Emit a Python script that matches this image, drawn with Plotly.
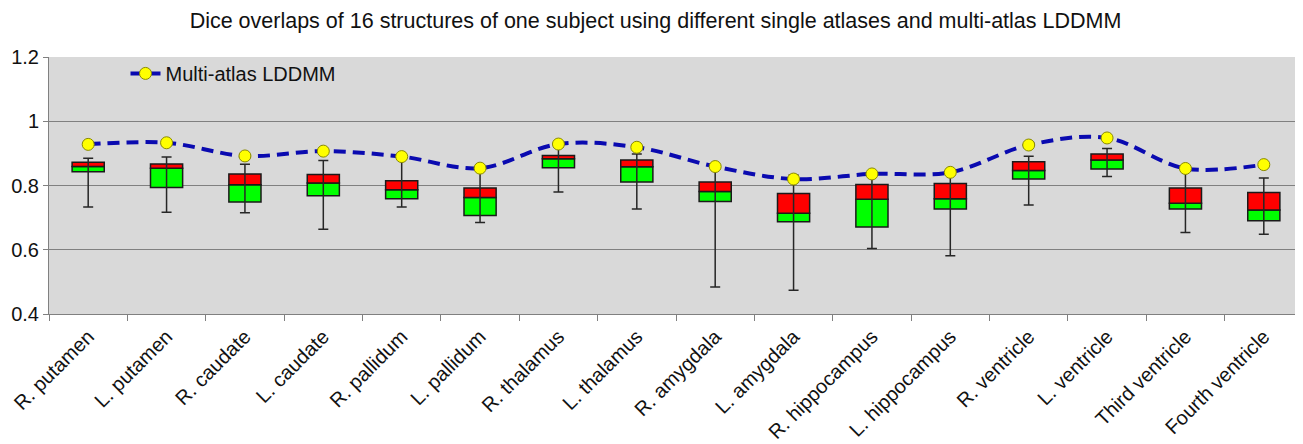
import plotly.graph_objects as go

structures = ["R. putamen", "L. putamen", "R. caudate", "L. caudate", "R. pallidum",
              "L. pallidum", "R. thalamus", "L. thalamus", "R. amygdala", "L. amygdala",
              "R. hippocampus", "L. hippocampus", "R. ventricle", "L. ventricle",
              "Third ventricle", "Fourth ventricle"]

whisker_min = [0.733, 0.717, 0.715, 0.664, 0.733, 0.685, 0.780, 0.727, 0.484, 0.474,
               0.604, 0.581, 0.739, 0.828, 0.654, 0.648]
q1 = [0.843, 0.794, 0.749, 0.768, 0.759, 0.707, 0.855, 0.811, 0.750, 0.687,
      0.671, 0.727, 0.820, 0.851, 0.727, 0.690]
median = [0.859, 0.854, 0.802, 0.808, 0.787, 0.763, 0.883, 0.858, 0.781, 0.714,
          0.757, 0.759, 0.847, 0.879, 0.745, 0.724]
q3 = [0.872, 0.867, 0.836, 0.834, 0.815, 0.792, 0.893, 0.879, 0.811, 0.775,
      0.803, 0.806, 0.874, 0.898, 0.792, 0.778]
whisker_max = [0.885, 0.889, 0.866, 0.878, 0.883, 0.848, 0.920, 0.898, 0.853, 0.833,
               0.830, 0.835, 0.891, 0.915, 0.848, 0.823]
multi_atlas = [0.928, 0.933, 0.892, 0.907, 0.890, 0.854, 0.929, 0.919, 0.859, 0.820,
               0.836, 0.841, 0.926, 0.948, 0.853, 0.865]

y_ticks = [0.4, 0.6, 0.8, 1.0, 1.2]
y_ticktext = ["0.4", "0.6", "0.8", "1", "1.2"]

FONT = "Liberation Sans, Arial, sans-serif"

fig = go.Figure()

# lower half of box: Q1 -> median (green)
fig.add_trace(go.Bar(
    x=structures, base=q1, y=[m - a for m, a in zip(median, q1)],
    marker=dict(color="#00FF00", line=dict(color="#1a1a1a", width=1.5)),
    width=0.41, showlegend=False, hoverinfo="skip"))
# upper half of box: median -> Q3 (red)
fig.add_trace(go.Bar(
    x=structures, base=median, y=[b - m for b, m in zip(q3, median)],
    marker=dict(color="#FF0000", line=dict(color="#1a1a1a", width=1.5)),
    width=0.41, showlegend=False, hoverinfo="skip"))
# whiskers
fig.add_trace(go.Scatter(
    x=structures, y=median, mode="markers",
    marker=dict(size=1, opacity=0),
    error_y=dict(type="data", symmetric=False,
                 array=[mx - m for mx, m in zip(whisker_max, median)],
                 arrayminus=[m - mn for m, mn in zip(median, whisker_min)],
                 color="#262626", thickness=1.5, width=5),
    showlegend=False, hoverinfo="skip"))
# multi-atlas line
fig.add_trace(go.Scatter(
    x=structures, y=multi_atlas, mode="lines+markers", name="Multi-atlas LDDMM",
    line=dict(color="#0A0AB0", width=4, dash="12px,7px", shape="spline", smoothing=1.0),
    marker=dict(color="#FFFF00", size=12, line=dict(color="#8A8A00", width=1))))

# page body has an 8px default margin, so the figure is 8px smaller than the window
fig.update_layout(
    width=1295, height=436,
    margin=dict(l=41, r=0, t=49, b=130),
    paper_bgcolor="white", plot_bgcolor="#D9D9D9",
    barmode="overlay",
    font=dict(family=FONT, color="#111111"),
    title=dict(text="Dice overlaps of 16 structures of one subject using different single atlases and multi-atlas LDDMM",
               x=0.5, xanchor="center", y=1 - 12 / 436, yanchor="middle",
               font=dict(size=21.5, family=FONT, color="#111111")),
    legend=dict(x=0.061, y=1.012, xanchor="left", yanchor="top",
                bgcolor="rgba(0,0,0,0)", font=dict(size=20, family=FONT, color="#111111")),
    xaxis=dict(type="category", range=[-0.5, 15.5], automargin=False,
               tickangle=-45, tickson="boundaries",
               ticks="outside", ticklen=6, tickcolor="#808080",
               ticklabelstandoff=2,
               showline=True, linecolor="#808080", linewidth=1,
               showgrid=False, tickfont=dict(size=20, family=FONT, color="#111111")),
    yaxis=dict(range=[0.4, 1.2], tickvals=y_ticks, ticktext=y_ticktext, automargin=False,
               ticks="outside", ticklen=5, tickcolor="#808080",
               showline=True, linecolor="#808080", linewidth=1,
               showgrid=True, gridcolor="#808080", gridwidth=1,
               zeroline=False, tickfont=dict(size=20, family=FONT, color="#111111")),
)

fig.write_html("out.html")
